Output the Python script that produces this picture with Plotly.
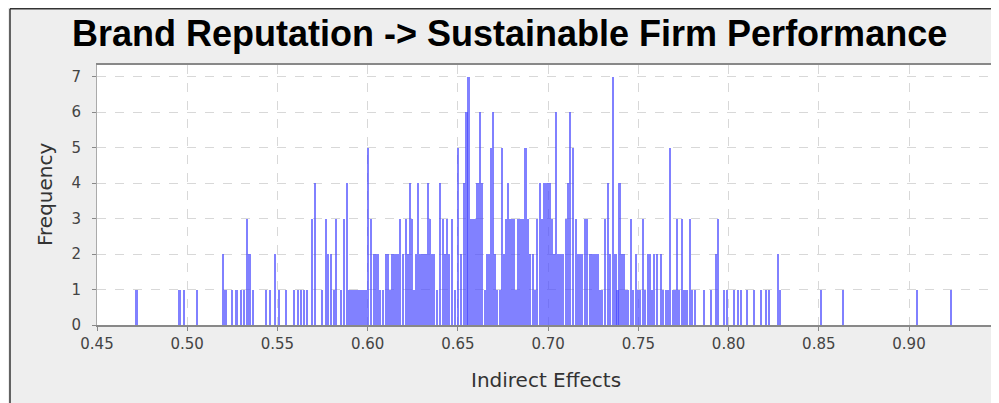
import plotly.graph_objects as go

# Indirect effect values (bin centres) and their frequencies
effects = [
    0.4718, 0.4958, 0.4981, 0.5053, 0.5200, 0.5213, 0.5247, 0.5274, 0.5297, 0.5313,
    0.5330, 0.5346, 0.5363, 0.5435, 0.5457, 0.5485, 0.5507, 0.5546, 0.5590, 0.5613,
    0.5630, 0.5646, 0.5662, 0.5690, 0.5707, 0.5746, 0.5768, 0.5779, 0.5796, 0.5812,
    0.5823, 0.5851, 0.5868, 0.5884, 0.5898, 0.5909, 0.5920, 0.5931, 0.5942, 0.5953,
    0.5964, 0.5975, 0.5987, 0.6001, 0.6017, 0.6034, 0.6045, 0.6056, 0.6070, 0.6084,
    0.6100, 0.6111, 0.6122, 0.6134, 0.6145, 0.6156, 0.6167, 0.6178, 0.6195, 0.6211,
    0.6222, 0.6233, 0.6245, 0.6256, 0.6267, 0.6278, 0.6289, 0.6300, 0.6311, 0.6322,
    0.6333, 0.6344, 0.6356, 0.6367, 0.6383, 0.6400, 0.6416, 0.6427, 0.6439, 0.6450,
    0.6466, 0.6483, 0.6499, 0.6516, 0.6533, 0.6547, 0.6558, 0.6571, 0.6583, 0.6594,
    0.6608, 0.6621, 0.6632, 0.6650, 0.6661, 0.6672, 0.6682, 0.6696, 0.6707, 0.6718,
    0.6732, 0.6743, 0.6754, 0.6766, 0.6777, 0.6788, 0.6799, 0.6810, 0.6821, 0.6835,
    0.6849, 0.6860, 0.6874, 0.6888, 0.6901, 0.6915, 0.6926, 0.6940, 0.6954, 0.6965,
    0.6979, 0.6996, 0.7009, 0.7021, 0.7032, 0.7042, 0.7057, 0.7070, 0.7084, 0.7098,
    0.7109, 0.7120, 0.7137, 0.7154, 0.7165, 0.7176, 0.7187, 0.7203, 0.7217, 0.7231,
    0.7242, 0.7253, 0.7264, 0.7276, 0.7287, 0.7298, 0.7317, 0.7331, 0.7342, 0.7359,
    0.7373, 0.7384, 0.7395, 0.7409, 0.7420, 0.7431, 0.7442, 0.7459, 0.7472, 0.7486,
    0.7497, 0.7508, 0.7525, 0.7536, 0.7553, 0.7564, 0.7575, 0.7586, 0.7603, 0.7625,
    0.7636, 0.7652, 0.7663, 0.7675, 0.7691, 0.7702, 0.7713, 0.7727, 0.7741, 0.7755,
    0.7769, 0.7786, 0.7799, 0.7813, 0.7863, 0.7902, 0.7930, 0.7941, 0.7974, 0.7991,
    0.8030, 0.8051, 0.8068, 0.8101, 0.8140, 0.8180, 0.8207, 0.8223, 0.8273, 0.8284,
    0.8512, 0.8634, 0.9044, 0.9232,
]
frequency = [
    1, 1, 1, 1, 2, 1, 1, 1, 1, 1,
    3, 2, 1, 1, 1, 2, 1, 1, 1, 1,
    1, 1, 1, 3, 4, 1, 3, 2, 2, 1,
    3, 1, 3, 4, 1, 1, 1, 1, 1, 1,
    1, 1, 1, 5, 3, 2, 2, 2, 1, 1,
    2, 2, 1, 2, 2, 2, 2, 3, 2, 3,
    2, 4, 3, 1, 2, 4, 2, 2, 2, 2,
    4, 3, 2, 2, 1, 4, 3, 2, 3, 2,
    3, 1, 5, 2, 4, 6, 7, 3, 3, 3,
    4, 6, 4, 1, 2, 2, 5, 6, 2, 1,
    1, 5, 2, 3, 4, 3, 3, 3, 1, 3,
    3, 3, 5, 3, 2, 2, 1, 3, 4, 3,
    4, 4, 4, 3, 2, 6, 2, 2, 2, 3,
    4, 6, 5, 3, 2, 2, 2, 3, 3, 2,
    2, 2, 2, 2, 1, 1, 3, 4, 2, 7,
    2, 1, 4, 2, 2, 1, 1, 3, 1, 2,
    1, 1, 3, 1, 2, 2, 1, 2, 2, 2,
    1, 1, 1, 5, 1, 1, 3, 1, 3, 1,
    1, 3, 1, 1, 1, 1, 2, 3, 1, 1,
    1, 1, 1, 1, 1, 1, 1, 1, 2, 1,
    1, 1, 1, 1,
]

title_text = "Brand Reputation -> Sustainable Firm Performance"
x_title = "Indirect Effects"
y_title = "Frequency"
x_ticks = [0.45, 0.50, 0.55, 0.60, 0.65, 0.70, 0.75, 0.80, 0.85, 0.90]
y_ticks = [0, 1, 2, 3, 4, 5, 6, 7]

fig = go.Figure()
fig.add_trace(go.Bar(
    x=effects, y=frequency, width=0.0013,
    marker=dict(color="rgba(70,70,255,0.68)", line=dict(width=0)),
    hoverinfo="x+y",
))

# the page body adds an 8px offset; layout positions below are in figure pixels
OFF = 8
W, H = 999, 403
ml, mt = 97 - OFF, 65 - OFF
plot_right, plot_bottom = 994 - OFF, 325 - OFF
mr, mb = W - plot_right, H - plot_bottom
pw = plot_right - ml
ph = plot_bottom - mt

def px(x):
    return (x - OFF - ml) / pw

def py(y):
    return (plot_bottom - (y - OFF)) / ph

shapes = [
    dict(type="line", xref="paper", yref="paper", x0=px(10), x1=px(10), y0=py(8.7), y1=py(420),
         line=dict(color="#333333", width=1.5)),
    dict(type="line", xref="paper", yref="paper", x0=px(10), x1=px(1020), y0=py(8.7), y1=py(8.7),
         line=dict(color="#333333", width=1.5)),
]

fig.update_layout(
    width=W, height=H,
    margin=dict(l=ml, r=mr, t=mt, b=mb, pad=0),
    paper_bgcolor="#EEEEEE",
    plot_bgcolor="white",
    showlegend=False,
    bargap=0,
    shapes=shapes,
    font=dict(family="DejaVu Sans, sans-serif", color="#444444"),
    annotations=[
        dict(text="<b>%s</b>" % title_text, xref="paper", yref="paper",
             x=px(509), y=py(34), xanchor="center", yanchor="middle", showarrow=False,
             font=dict(family="Liberation Sans, Arial, sans-serif", size=36, color="black")),
        dict(text=x_title, xref="paper", yref="paper", x=0.5, y=py(380),
             xanchor="center", yanchor="middle", showarrow=False,
             font=dict(size=20, color="#333333")),
        dict(text=y_title, xref="paper", yref="paper", x=px(45), y=py(195), textangle=-90,
             xanchor="center", yanchor="middle", showarrow=False,
             font=dict(size=20, color="#333333")),
    ],
    xaxis=dict(
        range=[0.45, 0.9471], tickvals=x_ticks, tickformat=".2f",
        ticks="outside", ticklen=4, tickcolor="#888888",
        showgrid=True, gridcolor="#D8D8D8", griddash="dash", gridwidth=1,
        showline=True, linecolor="#888888", linewidth=1.5, mirror=True,
        zeroline=False, tickfont=dict(size=15, color="#444444"),
    ),
    yaxis=dict(
        range=[0, 7.33], tickvals=y_ticks,
        ticks="outside", ticklen=4, tickcolor="#888888", ticklabelstandoff=8,
        showgrid=True, gridcolor="#D8D8D8", griddash="dash", gridwidth=1,
        showline=True, linecolor="#AAAAAA", linewidth=1, mirror=True,
        zeroline=False, tickfont=dict(size=15, color="#444444"),
    ),
)

fig.write_html("out.html")
